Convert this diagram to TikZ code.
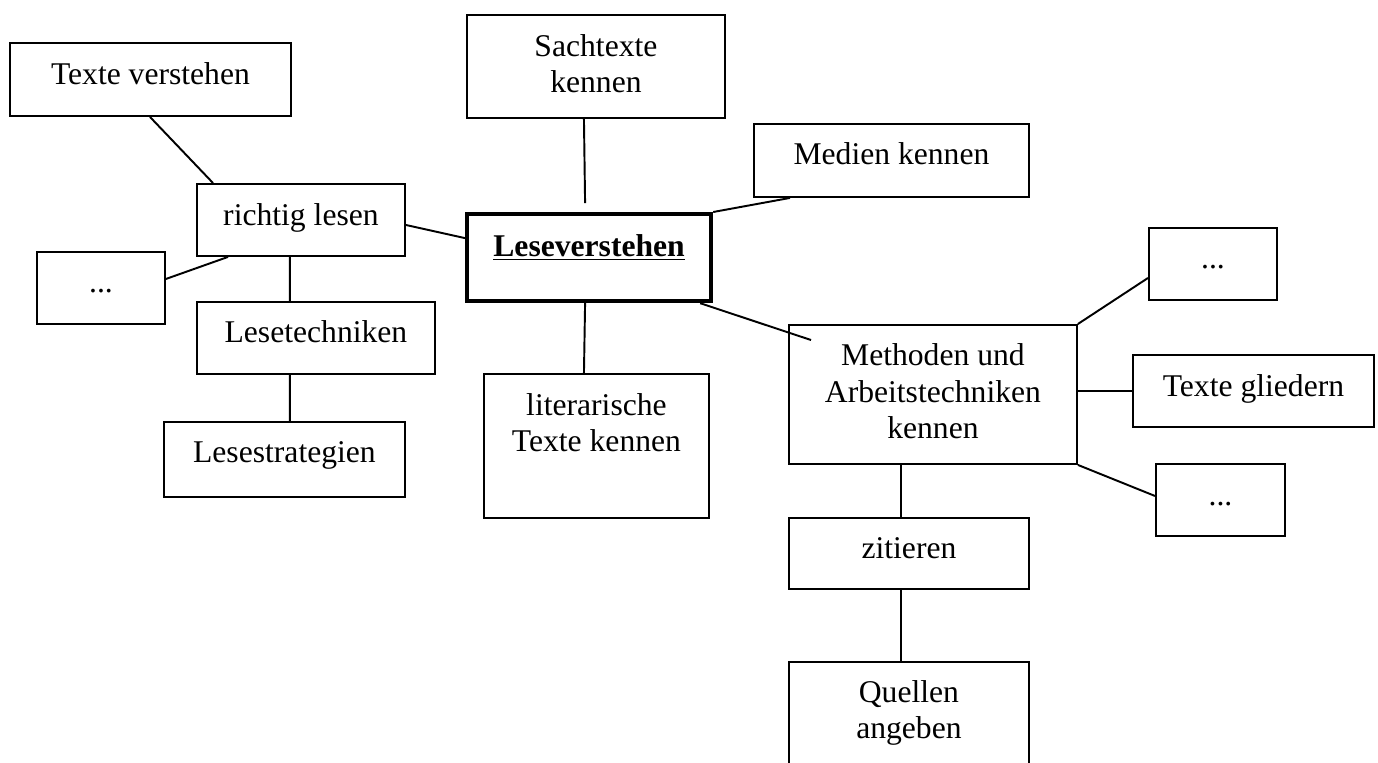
\documentclass[tikz,border=0pt]{standalone}
\usepackage{fontspec}
\setmainfont{Liberation Serif}
\tikzset{
  mapbox/.style={draw,line width=1.1pt,inner sep=0pt,align=center,anchor=north west,
    font=\fontsize{18pt}{21pt}\selectfont},
  link/.style={line width=1.1pt}
}
\begin{document}
\begin{tikzpicture}[x=0.02cm,y=-0.02cm]
  \useasboundingbox (0,0) rectangle (1378,762);
  % the centre
  \node[mapbox,line width=2.4pt,minimum width=4.88cm,text height=0.84cm,text depth=0.90cm] (lv) at (465,212) {\textbf{\underline{Leseverstehen}}};
  % left side
  \node[mapbox,minimum width=5.62cm,text height=0.84cm,text depth=0.62cm] (tv) at (9,42) {Texte verstehen};
  \node[mapbox,minimum width=4.16cm,text height=0.84cm,text depth=0.60cm] (rl) at (196,183) {richtig lesen};
  \node[mapbox,minimum width=2.56cm,text height=0.82cm,text depth=0.62cm] (dl) at (36,251) {...};
  \node[mapbox,minimum width=4.76cm,text height=0.82cm,text depth=0.62cm] (lt) at (196,301) {Lesetechniken};
  \node[mapbox,minimum width=4.82cm,text height=0.82cm,text depth=0.68cm] (ls) at (163,421) {Lesestrategien};
  % top and bottom (text height = down to the last line)
  \node[mapbox,minimum width=5.16cm,text height=1.56cm,text depth=0.50cm] (sach) at (466,14) {Sachtexte\\kennen};
  \node[mapbox,minimum width=5.50cm,text height=0.82cm,text depth=0.64cm] (med) at (753,123) {Medien kennen};
  \node[mapbox,minimum width=4.50cm,text height=1.56cm,text depth=1.32cm] (lit) at (483,373) {literarische\\Texte kennen};
  % right side
  \node[mapbox,minimum width=5.76cm,text height=2.28cm,text depth=0.50cm] (meth) at (788,324) {Methoden und\\Arbeitstechniken\\kennen};
  \node[mapbox,minimum width=2.56cm,text height=0.82cm,text depth=0.62cm] (dtr) at (1148,227) {...};
  \node[mapbox,minimum width=4.82cm,text height=0.84cm,text depth=0.60cm] (tg) at (1132,354) {Texte gliedern};
  \node[mapbox,minimum width=2.58cm,text height=0.84cm,text depth=0.60cm] (dbr) at (1155,463) {...};
  \node[mapbox,minimum width=4.80cm,text height=0.82cm,text depth=0.60cm] (zit) at (788,517) {zitieren};
  \node[mapbox,minimum width=4.80cm,text height=1.54cm,text depth=0.74cm] (quel) at (788,661) {Quellen\\angeben};

  %% the links
  \draw[link] ([xshift=2.82cm]tv.south west) -- ([xshift=0.34cm]rl.north west);
  \draw[link] ([yshift=-0.10cm]rl.east) -- ([yshift=0.39cm]lv.west);
  \draw[link] ([yshift=0.18cm]dl.east) -- ([xshift=0.64cm]rl.south west);
  \draw[link] ([xshift=-0.22cm]rl.south) -- ([xshift=-0.52cm]lt.north);
  \draw[link] ([xshift=-0.52cm]lt.south) -- ([xshift=0.11cm]ls.north);
  \draw[link] ([xshift=-0.24cm]sach.south) -- ([shift={(-0.08cm,0.18cm)}]lv.north);
  \draw[link] ([xshift=0.74cm]med.south west) -- (lv.north east);
  \draw[link] ([xshift=-0.08cm]lv.south) -- ([xshift=-0.25cm]lit.north);
  \draw[link] ([xshift=-0.26cm]lv.south east) -- ([shift={(0.46cm,-0.32cm)}]meth.north west);
  \draw[link] (meth.north east) -- ([yshift=-0.28cm]dtr.west);
  \draw[link] (tg.west) -- (meth.east |- tg.west);
  \draw[link] (meth.south east) -- ([yshift=0.08cm]dbr.west);
  \draw[link] ([xshift=-0.64cm]meth.south) -- ([xshift=-0.16cm]zit.north);
  \draw[link] ([xshift=-0.16cm]zit.south) -- ([xshift=-0.16cm]quel.north);
\end{tikzpicture}
\end{document}
